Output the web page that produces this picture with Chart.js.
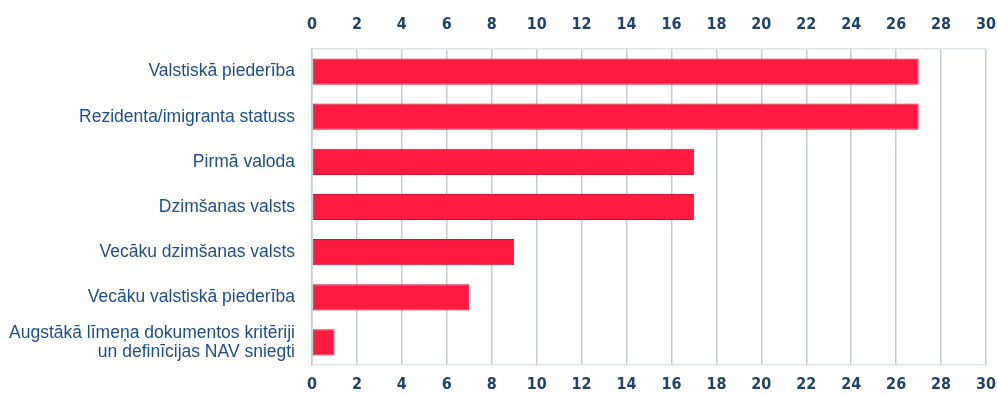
<!DOCTYPE html>
<html>
<head>
<meta charset="utf-8">
<script src="https://cdn.jsdelivr.net/npm/chart.js@4"></script>
<style>
  html, body { margin: 0; padding: 0; background: #fff; }
  #wrap { width: 997px; height: 396px; }
</style>
</head>
<body>
<div id="wrap"><canvas id="chart"></canvas></div>
<script>
// Data
const categories = [
    'Valstiskā piederība',
    'Rezidenta/imigranta statuss',
    'Pirmā valoda',
    'Dzimšanas valsts',
    'Vecāku dzimšanas valsts',
    'Vecāku valstiskā piederība',
    ['Augstākā līmeņa dokumentos kritēriji', 'un definīcijas NAV sniegti']
];
const counts = [27, 27, 17, 17, 9, 7, 1];
const axisMin = 0;
const axisMax = 30;
const axisStep = 2;

const labelColor = '#1c4f86';
const tickColor = '#1f4468';
const gridColor = '#c6cbd1';

const tickFont = { family: '"DejaVu Sans Condensed", "Liberation Sans Narrow", Arial', size: 16, weight: 'bold' };

// let the last tick label hang into the right margin like the original
function fitXAxis(height) {
    return function(scale) {
        scale.height = height;
        scale.paddingRight = 0;
        scale.paddingLeft = 0;
    };
}

const ctx = document.getElementById('chart').getContext('2d');
new Chart(ctx, {
    type: 'bar',
    data: {
        labels: categories,
        datasets: [{
            data: counts,
            backgroundColor: '#ff1b40',
            borderColor: '#c91532',
            borderWidth: 1,
            borderSkipped: false,
            categoryPercentage: 1,
            barPercentage: 0.58,
            xAxisID: 'x'
        }]
    },
    options: {
        indexAxis: 'y',
        responsive: true,
        maintainAspectRatio: false,
        animation: false,
        layout: { padding: { top: 0, right: 11, bottom: 0, left: 0 } },
        plugins: {
            legend: { display: false },
            tooltip: { enabled: false }
        },
        scales: {
            x: {
                position: 'bottom',
                min: axisMin,
                max: axisMax,
                ticks: { stepSize: axisStep, color: tickColor, font: tickFont, padding: 10 },
                grid: { color: gridColor, lineWidth: 1.5, tickLength: 0 },
                border: { color: '#dfe3e7', width: 1.5 },
                afterFit: fitXAxis(31)
            },
            x2: {
                position: 'top',
                min: axisMin,
                max: axisMax,
                ticks: { stepSize: axisStep, color: tickColor, font: tickFont, padding: 7 },
                grid: { display: false },
                border: { color: '#dfe3e7', width: 1.5 },
                afterFit: fitXAxis(49)
            },
            y: {
                ticks: {
                    color: labelColor,
                    font: { family: '"Liberation Sans", Arial', size: 17.5, lineHeight: 1.1 },
                    padding: 9
                },
                grid: { display: false },
                border: { color: gridColor, width: 1.5 },
                afterFit: function(scale) { scale.width = 312; }
            }
        }
    }
});
</script>
</body>
</html>
